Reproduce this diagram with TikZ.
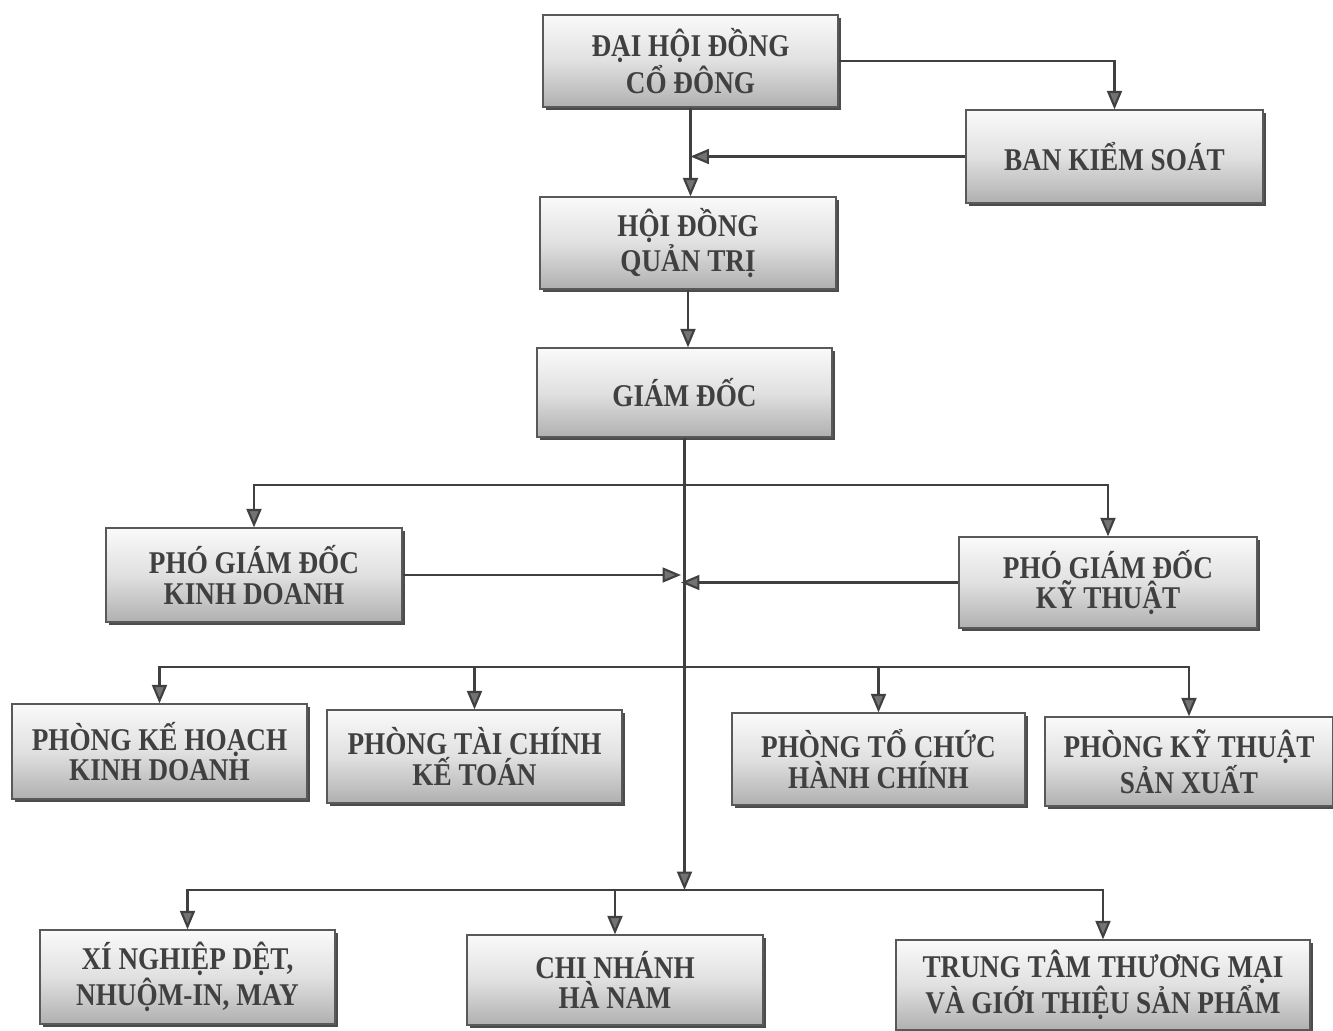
\documentclass[tikz,border=0pt]{standalone}
\usepackage{fontspec}
\setmainfont{Liberation Serif}[FakeStretch=0.86]
\usetikzlibrary{arrows.meta,shadows}
\begin{document}
\begin{tikzpicture}[
  box/.style={rectangle, draw=black!65, line width=0.7pt,
    top color=gray!4, bottom color=gray!62, middle color=gray!24,
    align=center, font=\fontsize{18}{17.5}\selectfont\bfseries, text=black!75,
    inner sep=2pt,
    drop shadow={shadow xshift=1.6pt, shadow yshift=-1.6pt, fill=black!70, opacity=1}},
  conn/.style={draw=black!75, line width=1.2pt},
  arr/.style={conn, -{Triangle[length=10.5pt,width=8.5pt,fill=black!55]}},
]
\useasboundingbox (0,0) rectangle (26.66,-20.6);

\node[box, minimum width=5.9cm, minimum height=1.84cm] (dh) at (13.81,-1.22) {ĐẠI HỘI ĐỒNG\\CỔ ĐÔNG};
\node[box, minimum width=5.94cm, minimum height=1.86cm] (bks) at (22.29,-3.13) {BAN KIỂM SOÁT};
\node[box, minimum width=5.92cm, minimum height=1.84cm] (hd) at (13.76,-4.86) {HỘI ĐỒNG\\QUẢN TRỊ};
\node[box, minimum width=5.9cm, minimum height=1.78cm] (gd) at (13.69,-7.85) {GIÁM ĐỐC};
\node[box, minimum width=5.92cm, minimum height=1.88cm] (pk) at (5.08,-11.5) {PHÓ GIÁM ĐỐC\\KINH DOANH};
\node[box, minimum width=5.96cm, minimum height=1.82cm] (pt) at (22.16,-11.65) {PHÓ GIÁM ĐỐC\\KỸ THUẬT};
\node[box, minimum width=5.9cm, minimum height=1.9cm] (p1) at (3.19,-15.03) {PHÒNG KẾ HOẠCH\\KINH DOANH};
\node[box, minimum width=5.9cm, minimum height=1.86cm] (p2) at (9.49,-15.13) {PHÒNG TÀI CHÍNH\\KẾ TOÁN};
\node[box, minimum width=5.86cm, minimum height=1.84cm] (p3) at (17.57,-15.18) {PHÒNG TỔ CHỨC\\HÀNH CHÍNH};
\node[box, minimum width=5.76cm, minimum height=1.78cm] (p4) at (23.78,-15.23) {PHÒNG KỸ THUẬT\\SẢN XUẤT};
\node[box, minimum width=5.9cm, minimum height=1.88cm] (x1) at (3.75,-19.54) {XÍ NGHIỆP DỆT,\\NHUỘM-IN, MAY};
\node[box, minimum width=5.92cm, minimum height=1.8cm] (x2) at (12.3,-19.6) {CHI NHÁNH\\HÀ NAM};
\node[box, minimum width=8.28cm, minimum height=1.8cm] (x3) at (22.06,-19.7) {TRUNG TÂM THƯƠNG MẠI\\VÀ GIỚI THIỆU SẢN PHẨM};

\coordinate (b1) at (13.62,-9.7);
\coordinate (b2) at (13.62,-13.34);
\coordinate (b3) at (13.62,-17.8);

% top part
\draw[arr] (dh.east) -| (bks.north);
\draw[arr] (dh.south) -- (dh.south |- hd.north);
\draw[arr] (bks.west) -- (bks.west -| dh.south);
\draw[arr] (hd.south) -- (hd.south |- gd.north);
% main trunk
\draw[arr] (gd.south) -- (gd.south |- b3);
% deputies
\draw[arr] (b1) -| (pk.north);
\draw[arr] (b1) -| (pt.north);
\draw[arr] (pk.east) -- (pk.east -| b1);
\draw[arr] (pt.west) -- (pt.west -| b1);
% departments
\draw[arr] (b2) -| (p1.north);
\draw[arr] (b2) -| (p2.north);
\draw[arr] (b2) -| (p3.north);
\draw[arr] (b2) -| (p4.north);
% units
\draw[arr] (b3) -| (x1.north);
\draw[arr] (b3) -| (x2.north);
\draw[arr] (b3) -| (x3.north);
\end{tikzpicture}
\end{document}
